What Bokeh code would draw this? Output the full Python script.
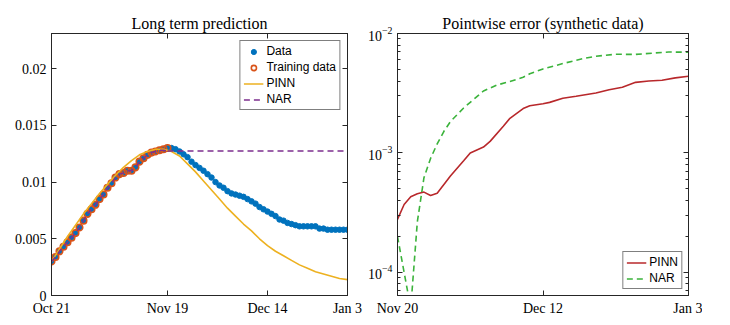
from bokeh.plotting import figure
from bokeh.layouts import row
from bokeh.models import (FixedTicker, LinearAxis, LogTicker, Range1d,
                          Legend, LegendItem, CustomJSTickFormatter)
from bokeh.embed import file_html
from bokeh.resources import INLINE

# ---------------- data (left panel) ----------------
train_days = list(range(0, 30))
train_vals = [0.0030, 0.0034, 0.0039, 0.0043, 0.0047, 0.0051, 0.0055, 0.0060, 0.0066, 0.0072,
              0.0076, 0.0080, 0.0085, 0.0089, 0.0095, 0.0099, 0.0104, 0.0107, 0.0108, 0.0110,
              0.0110, 0.0113, 0.0118, 0.0121, 0.0124, 0.0126, 0.0127, 0.0128, 0.0129, 0.0130]
test_days = list(range(30, 75))
test_vals = [0.0130, 0.0129, 0.0127, 0.01245, 0.0122, 0.0118, 0.0115, 0.01125, 0.0110, 0.0107,
             0.0104, 0.0100, 0.0097, 0.0095, 0.0092, 0.0090, 0.0089, 0.0088, 0.0087, 0.0085,
             0.0083, 0.0081, 0.0078, 0.0076, 0.0074, 0.0072, 0.0070, 0.0067, 0.0066, 0.0064,
             0.0063, 0.0062, 0.0061, 0.0061, 0.0061, 0.0061, 0.0061, 0.0059, 0.0059, 0.0058,
             0.0058, 0.0058, 0.0058, 0.0058, 0.0058]
pinn_days = [0, 2, 4, 6, 8, 10, 12, 14, 16, 18, 20, 22, 24, 26, 28, 30, 32, 34, 36, 38,
             40, 42, 44, 46, 48, 50, 52, 54, 56, 58, 60, 62, 64, 66, 68, 70, 72, 74]
pinn_vals = [0.0030, 0.0041, 0.0052, 0.0062, 0.0072, 0.0081, 0.0090, 0.0098, 0.0106, 0.0113,
             0.0119, 0.0124, 0.0127, 0.0129, 0.0129, 0.0127, 0.0123, 0.0116, 0.0109, 0.0101,
             0.0093, 0.0085, 0.0077, 0.0070, 0.0063, 0.0057, 0.0050, 0.0044, 0.0039, 0.0035,
             0.0031, 0.0027, 0.0024, 0.0021, 0.0019, 0.0017, 0.0015, 0.0014]
nar_fit_days = list(range(0, 30))
nar_fit_vals = [0.0030, 0.0034, 0.0039, 0.0043, 0.0047, 0.0051, 0.0055, 0.0060, 0.0066, 0.0072,
                0.0076, 0.0080, 0.0085, 0.0089, 0.0095, 0.0099, 0.0104, 0.0107, 0.0108, 0.0110,
                0.0110, 0.0113, 0.0118, 0.0121, 0.0124, 0.0126, 0.0127, 0.0128, 0.0128, 0.01275]
nar_forecast_days = [29, 74]
nar_forecast_vals = [0.01275, 0.01275]
left_xticks = [0, 29, 54, 74]
left_xlabels = ["Oct 21", "Nov 19", "Dec 14", "Jan 3"]
left_yticks = [0, 0.005, 0.01, 0.015, 0.02]
left_ylabels = ["0", "0.005", "0.01", "0.015", "0.02"]

# ---------------- data (right panel) ----------------
err_pinn_days = [0, 1, 2, 3, 4, 5, 6, 8, 10, 11, 13, 14, 16, 17, 19, 20, 22, 23, 25, 27, 30,
                 32, 34, 36, 38, 40, 42, 44]
err_pinn = [2.78e-4, 3.7e-4, 4.3e-4, 4.55e-4, 4.7e-4, 4.4e-4, 4.6e-4, 6.4e-4, 8.6e-4, 1.0e-3,
            1.12e-3, 1.25e-3, 1.67e-3, 1.95e-3, 2.35e-3, 2.48e-3, 2.58e-3, 2.65e-3, 2.87e-3,
            2.98e-3, 3.18e-3, 3.38e-3, 3.55e-3, 3.9e-3, 4.0e-3, 4.06e-3, 4.25e-3, 4.38e-3]
err_nar_days = [0, 1, 2, 3, 4, 5, 6, 7, 8, 10, 13, 15, 17, 19, 20, 22, 25, 28, 30, 33,
                36, 39, 41, 44]
err_nar = [2.0e-4, 1.0e-4, 5.0e-5, 2.65e-4, 6.2e-4, 9.0e-4, 1.19e-3, 1.51e-3, 1.83e-3, 2.38e-3,
           3.3e-3, 3.7e-3, 3.96e-3, 4.3e-3, 4.6e-3, 5.05e-3, 5.6e-3, 6.15e-3, 6.45e-3, 6.7e-3,
           6.68e-3, 6.88e-3, 7.0e-3, 6.97e-3]
right_xticks = [0, 22, 44]
right_xlabels = ["Nov 20", "Dec 12", "Jan 3"]

AX = "#262626"
SERIF = "Liberation Serif"
SANS = "Liberation Sans"
BLANK = CustomJSTickFormatter(code="return ''")


def style_axis(ax, labels=True):
    ax.axis_line_color = AX
    ax.major_tick_line_color = AX
    ax.minor_tick_line_color = AX
    ax.major_tick_in = 5
    ax.major_tick_out = 0
    ax.minor_tick_in = 3
    ax.minor_tick_out = 0
    if labels:
        ax.major_label_text_font = SERIF
        ax.major_label_text_font_size = "14px"
        ax.major_label_text_color = "black"
        ax.major_label_standoff = 5
    else:
        ax.formatter = BLANK
        ax.major_label_standoff = 0


def style_fig(p, title):
    p.title.text = title
    p.title.align = "center"
    p.title.text_font = SERIF
    p.title.text_font_size = "16px"
    p.title.text_font_style = "normal"
    p.title.text_color = "black"
    p.title.standoff = 4
    p.outline_line_color = AX
    p.outline_line_width = 1
    p.xgrid.visible = False
    p.ygrid.visible = False
    p.background_fill_color = "white"
    p.border_fill_color = "white"


# ---------------- left figure ----------------
p1 = figure(width=365, height=318, x_range=Range1d(0, 74), y_range=Range1d(0, 0.0231),
            output_backend="svg", toolbar_location=None,
            min_border_left=51, min_border_right=18, min_border_top=29, min_border_bottom=22)
style_fig(p1, "Long term prediction")

p1.xaxis.ticker = FixedTicker(ticks=left_xticks)
p1.yaxis.ticker = FixedTicker(ticks=left_yticks)
p1.xaxis.major_label_overrides = dict(zip(left_xticks, left_xlabels))
p1.yaxis.major_label_overrides = dict(zip(left_yticks, left_ylabels))
for ax in p1.xaxis + p1.yaxis:
    style_axis(ax)
    ax.minor_tick_line_color = None
top1 = LinearAxis(ticker=FixedTicker(ticks=left_xticks))
right1 = LinearAxis(ticker=FixedTicker(ticks=left_yticks))
for ax in (top1, right1):
    style_axis(ax, labels=False)
    ax.minor_tick_line_color = None
p1.add_layout(top1, "above")
p1.add_layout(right1, "right")

r_data = p1.scatter(train_days + test_days, train_vals + test_vals, size=5.5,
                    fill_color="#0072BD", line_color="#0072BD")
r_train = p1.scatter(train_days, train_vals, size=6.5, fill_color=None,
                     line_color="#D95319", line_width=1.6)
r_pinn = p1.line(pinn_days, pinn_vals, line_color="#EDB120", line_width=1.6)
r_nar = p1.line(nar_fit_days, nar_fit_vals, line_color="#7E2F8E", line_width=1.5,
                line_dash="6 4")
r_nar2 = p1.line(nar_forecast_days, nar_forecast_vals, line_color="#7E2F8E", line_width=1.5,
                 line_dash="6 4")

leg1 = Legend(items=[LegendItem(label="Data", renderers=[r_data]),
                     LegendItem(label="Training data", renderers=[r_train]),
                     LegendItem(label="PINN", renderers=[r_pinn]),
                     LegendItem(label="NAR", renderers=[r_nar])],
              location="top_right")
p1.add_layout(leg1)

# ---------------- right figure ----------------
p2 = figure(width=337, height=318, x_range=Range1d(0, 44), y_range=Range1d(6.4e-5, 1e-2),
            y_axis_type="log", output_backend="svg", toolbar_location=None,
            min_border_left=31, min_border_right=14, min_border_top=33, min_border_bottom=22)
style_fig(p2, "Pointwise error (synthetic data)")
p2.xaxis.ticker = FixedTicker(ticks=right_xticks)
p2.xaxis.major_label_overrides = dict(zip(right_xticks, right_xlabels))
p2.yaxis.ticker = LogTicker(num_minor_ticks=10)
for ax in p2.xaxis:
    style_axis(ax)
    ax.minor_tick_line_color = None
for ax in p2.yaxis:
    style_axis(ax)
top2 = LinearAxis(ticker=FixedTicker(ticks=right_xticks))
style_axis(top2, labels=False)
top2.minor_tick_line_color = None
right2 = LinearAxis(ticker=LogTicker(num_minor_ticks=10))
style_axis(right2, labels=False)
p2.add_layout(top2, "above")
p2.add_layout(right2, "right")

r_ep = p2.line(err_pinn_days, err_pinn, line_color="#B8282B", line_width=1.6)
r_en = p2.line(err_nar_days, err_nar, line_color="#3BB33B", line_width=1.6, line_dash="6 4")
leg2 = Legend(items=[LegendItem(label="PINN", renderers=[r_ep]),
                     LegendItem(label="NAR", renderers=[r_en])],
              location="bottom_right")
p2.add_layout(leg2)

for lg, m in ((leg1, 7), (leg2, 6)):
    lg.label_text_font = SANS
    lg.label_text_font_size = "12px"
    lg.label_text_color = "black"
    lg.glyph_width = 20
    lg.glyph_height = 13
    lg.label_height = 13
    lg.label_standoff = 3
    lg.spacing = 2
    lg.padding = 3
    lg.margin = m
    lg.border_line_color = "black"
    lg.border_line_width = 1
    lg.background_fill_alpha = 1.0

layout = row(p1, p2)
open("out.html", "w").write(file_html(layout, INLINE))
